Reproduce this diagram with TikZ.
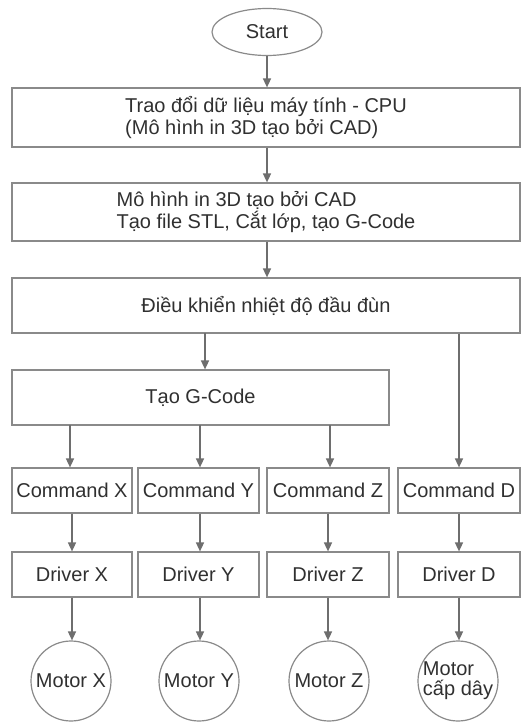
\documentclass[tikz,border=0pt]{standalone}
\usepackage{fontspec}
\setmainfont{Liberation Sans}
\usetikzlibrary{shapes.geometric,arrows.meta}
\definecolor{boxline}{HTML}{8A8A8A}
\definecolor{arrline}{HTML}{6E6E6E}
\definecolor{txt}{HTML}{303030}
\begin{document}
\begin{tikzpicture}[x=1pt,y=-1pt,
  every node/.style={font=\fontsize{20}{22}\selectfont, text=txt, inner sep=0pt},
  wbox/.style={draw=boxline, line width=1.2pt, rectangle, align=left},
  cbox/.style={draw=boxline, line width=1.2pt, rectangle, minimum width=121pt, minimum height=45pt},
  motor/.style={draw=boxline, line width=1.2pt, circle, minimum size=80pt, align=left},
  arr/.style={draw=arrline, line width=1.5pt, -{Triangle[width=8pt,length=9pt]}}
]
\useasboundingbox (0,0) rectangle (521,725);
\fill[white] (0,0) rectangle (521,725);

\node[draw=boxline, line width=1.2pt, ellipse, minimum width=110pt, minimum height=47pt] (start) at (267,32) {Start};

\node[wbox, minimum width=508pt, minimum height=59pt] (b1) at (266,117.5)
  {Trao đổi dữ liệu máy tính - CPU\\(Mô hình in 3D tạo bởi CAD)};
\node[wbox, minimum width=508pt, minimum height=58pt] (b2) at (266,212)
  {Mô hình in 3D tạo bởi CAD\\Tạo file STL, Cắt lớp, tạo G-Code};
\node[wbox, minimum width=508pt, minimum height=55pt] (b3) at (266,305.5)
  {Điều khiển nhiệt độ đầu đùn};
\node[wbox, minimum width=377pt, minimum height=55pt] (tao) at (200.5,397.5)
  {Tạo G-Code};

\node[cbox, minimum width=120pt] (cx) at (72,490.5) {Command X};
\node[cbox] (cy) at (198.5,490.5) {Command Y};
\node[cbox, minimum width=122pt] (cz) at (328,490.5) {Command Z};
\node[cbox, minimum width=122pt] (cd) at (459,490.5) {Command D};

\node[cbox, minimum width=120pt] (dx) at (72,574.5) {Driver X};
\node[cbox] (dy) at (198.5,574.5) {Driver Y};
\node[cbox, minimum width=122pt] (dz) at (328,574.5) {Driver Z};
\node[cbox, minimum width=122pt] (dd) at (459,574.5) {Driver D};

\node[motor] (mx) at (71,681) {Motor X};
\node[motor] (my) at (199,681) {Motor Y};
\node[motor] (mz) at (329,681) {Motor Z};
\node[motor, font=\fontsize{20}{20}\selectfont] (md) at (458,681) {Motor\\cấp dây};

\coordinate (t3) at (205,333);
\coordinate (tx) at (70,425);
\coordinate (ty) at (200,425);
\coordinate (tz) at (330,425);

\draw[arr] (start.south) -- (b1.north -| start.south);
\draw[arr] (b1.south -| start.south) -- (b2.north -| start.south);
\draw[arr] (b2.south -| start.south) -- (b3.north -| start.south);
\draw[arr] (t3) -- (tao.north -| t3);
\draw[arr] (b3.south -| cd.north) -- (cd.north);
\draw[arr] (tx) -- (cx.north -| tx);
\draw[arr] (ty) -- (cy.north -| ty);
\draw[arr] (tz) -- (cz.north -| tz);
\draw[arr] (cx.south) -- (dx.north);
\draw[arr] (cy.south -| 200,0) -- (dy.north -| 200,0);
\draw[arr] (cz.south) -- (dz.north);
\draw[arr] (cd.south) -- (dd.north);
\draw[arr] (dx.south) -- (mx.north -| dx.south);
\draw[arr] (dy.south -| 200,0) -- (my.north -| 200,0);
\draw[arr] (dz.south) -- (mz.north -| dz.south);
\draw[arr] (dd.south) -- (md.north -| dd.south);
\end{tikzpicture}
\end{document}
